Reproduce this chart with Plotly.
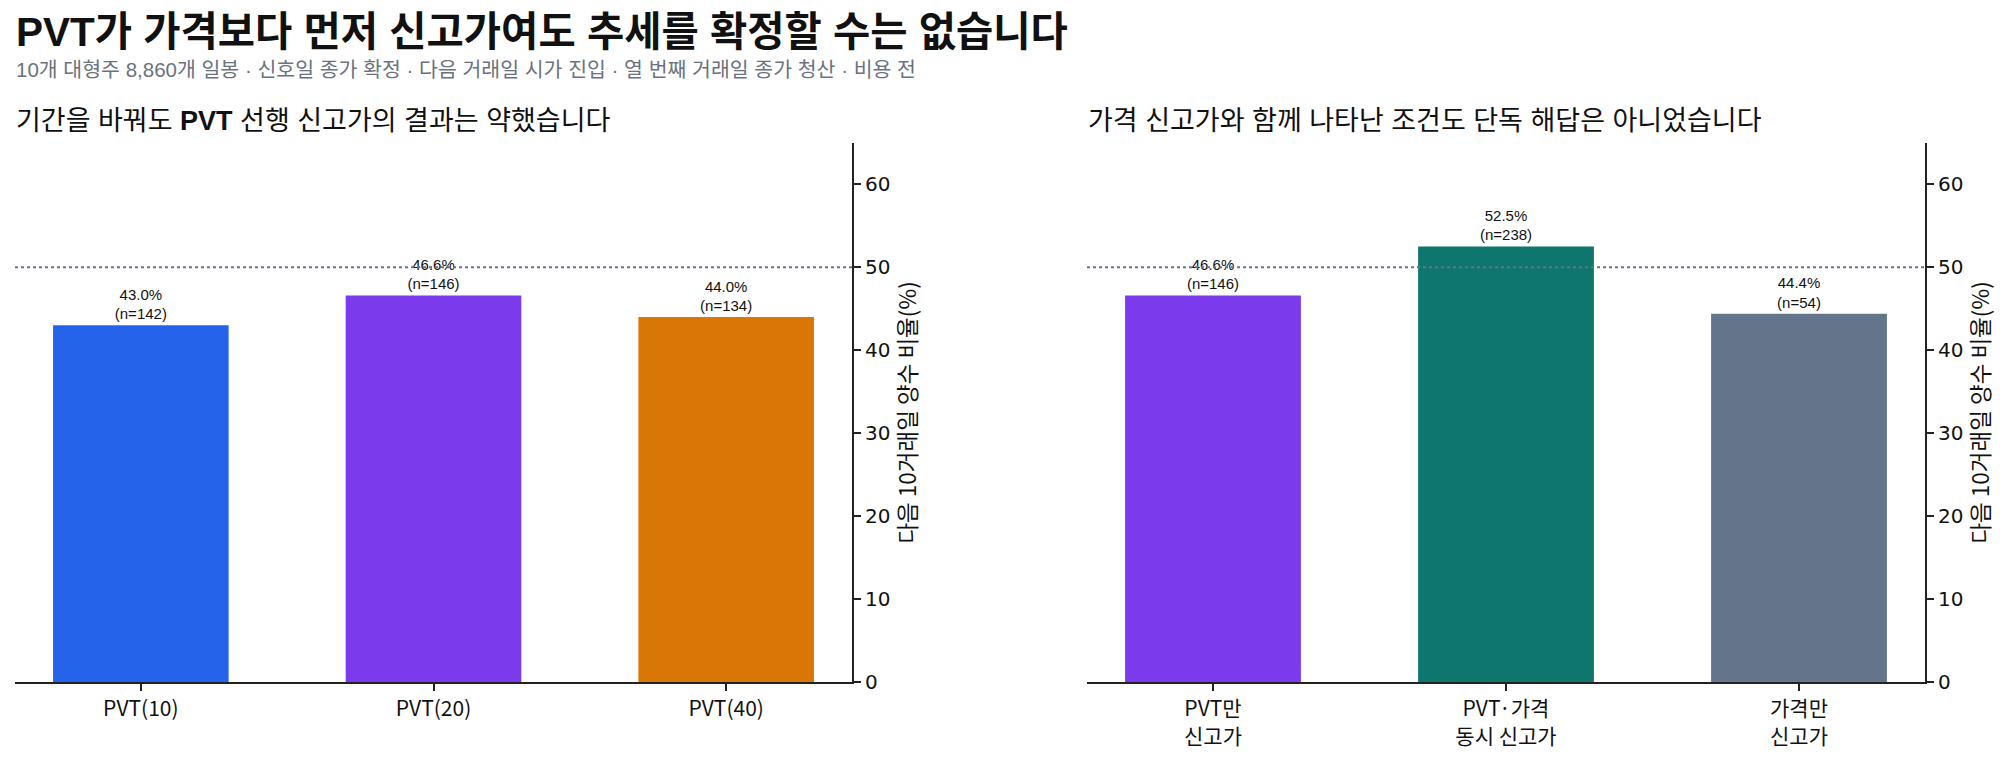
import plotly.graph_objects as go
from plotly.subplots import make_subplots

# data
left_labels = ["PVT(10)", "PVT(20)", "PVT(40)"]
left_rates = [43.0, 46.6, 44.0]
left_counts = [142, 146, 134]
left_colors = ["#2563eb", "#7c3aed", "#d97706"]

right_labels = ["PVT만<br>신고가", "PVT·가격<br>동시 신고가", "가격만<br>신고가"]
right_rates = [46.6, 52.5, 44.4]
right_counts = [146, 238, 54]
right_colors = ["#7c3aed", "#0f766e", "#64748b"]

coin_flip = 50  # dotted reference line
y_ticks = [0, 10, 20, 30, 40, 50, 60]

title = "<b>PVT가 가격보다 먼저 신고가여도 추세를 확정할 수는 없습니다</b>"
subtitle = "10개 대형주 8,860개 일봉 · 신호일 종가 확정 · 다음 거래일 시가 진입 · 열 번째 거래일 종가 청산 · 비용 전"
left_title = "기간을 바꿔도 <b>PVT</b> 선행 신고가의 결과는 약했습니다"
right_title = "가격 신고가와 함께 나타난 조건도 단독 해답은 아니었습니다"
y_title = "다음 10거래일 양수 비율(%)"

KR = "Noto Sans CJK KR, Noto Sans, sans-serif"
# latin font first keeps the text boxes of the headings compact; hangul falls back to Noto CJK
HEAD = "Liberation Sans, Noto Sans CJK KR, sans-serif"
NUM = "DejaVu Sans, sans-serif"

# page body has an 8px margin, so work in screen pixels and shift by it
PAD = 8
W, H = 2010 - 2 * PAD, 764 - 2 * PAD


def px_x(x):
    return (x - PAD) / W


def px_y(y):
    return 1 - (y - PAD) / H


fig = make_subplots(rows=1, cols=2)

for col, labels, rates, counts, colors in [
    (1, left_labels, left_rates, left_counts, left_colors),
    (2, right_labels, right_rates, right_counts, right_colors),
]:
    fig.add_trace(go.Bar(
        x=labels, y=rates, customdata=counts,
        marker=dict(color=colors, line=dict(width=0)),
        width=0.6,
        texttemplate="%{y:.1f}%<br>(n=%{customdata})",
        textposition="outside",
        textfont=dict(family="Liberation Sans, Arial, sans-serif", size=15, color="#111111"),
        constraintext="none",
        cliponaxis=False,
        showlegend=False,
        hoverinfo="skip",
    ), row=1, col=col)
    suffix = "" if col == 1 else str(col)
    fig.add_shape(type="line", xref=f"x{suffix} domain", yref=f"y{suffix}",
                  x0=0, x1=1, y0=coin_flip, y1=coin_flip,
                  line=dict(color="#64748b", width=1.8, dash="dot"), layer="above")

fig.update_xaxes(showline=True, linecolor="#222222", linewidth=2, ticks="outside",
                 ticklen=7, tickcolor="#222222", tickwidth=1.5, showgrid=False, zeroline=False,
                 range=[-0.43, 2.43], tickfont=dict(family=KR, size=21, color="#111111"))
fig.update_yaxes(side="right", showline=True, linecolor="#222222", linewidth=2, ticks="outside",
                 ticklen=7, tickcolor="#222222", tickwidth=1.5, showgrid=False, zeroline=False,
                 range=[0, 65], tickvals=y_ticks,
                 tickfont=dict(family=NUM, size=20, color="#111111"),
                 title=dict(text=y_title, font=dict(family=KR, size=22.5, color="#111111"), standoff=6))
fig.update_layout(
    xaxis=dict(domain=[px_x(15), px_x(852)]),
    xaxis2=dict(domain=[px_x(1087), px_x(1925)]),
    yaxis=dict(domain=[px_y(693), px_y(145)], anchor="x"),
    yaxis2=dict(domain=[px_y(693), px_y(145)], anchor="x2"),
)

# (text, left x, centre y, font size, colour) in screen pixels
texts = [
    (title, 15, 32, 40.5, "#111111"),
    (subtitle, 15, 70, 20.5, "#6b7280"),
    (left_title, 15, 123, 27, "#111111"),
    (right_title, 1087, 123, 27, "#111111"),
]
for txt, x, y, size, color in texts:
    fig.add_annotation(text=txt, xref="paper", yref="paper", x=px_x(x), y=px_y(y),
                       xanchor="left", yanchor="middle", showarrow=False, borderpad=0,
                       font=dict(family=HEAD, size=size, color=color))

fig.update_layout(
    width=W, height=H,
    margin=dict(l=0, r=0, t=0, b=0),
    paper_bgcolor="white", plot_bgcolor="white",
    font=dict(family=KR),
)

fig.write_html("out.html")
